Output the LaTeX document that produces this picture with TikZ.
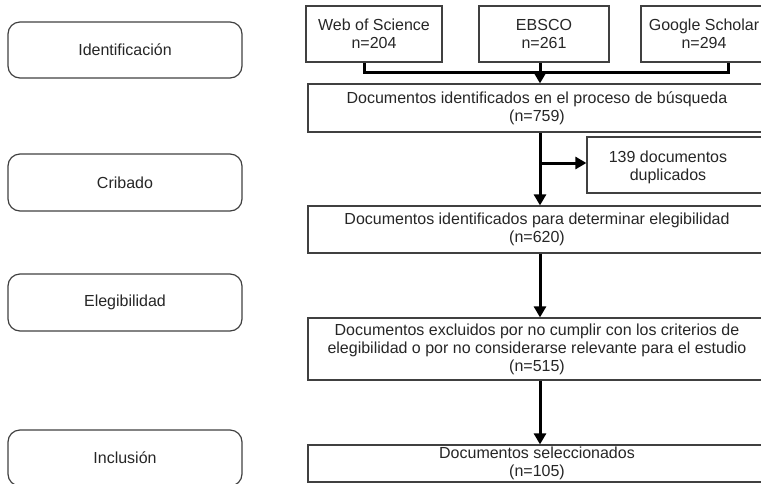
\documentclass[tikz,border=0pt]{standalone}
\usepackage{fontspec}
\setmainfont{Liberation Sans}
\usetikzlibrary{positioning,arrows.meta}
\usepackage{xcolor}

\begin{document}
\begin{tikzpicture}[x=1pt, y=-1pt, every node/.style={font=\fontsize{16}{18}\selectfont, text=black!85}, phase/.style={draw=black!75, line width=1.2pt, rounded corners=12pt, minimum width=234pt, minimum height=56pt}, src/.style={draw=black!75, line width=1.2pt, align=center, minimum height=56pt}, box/.style={draw=black!75, line width=1.2pt, align=center, minimum width=458pt, inner sep=1pt}, arr/.style={-{Triangle[length=11pt,width=12pt]}, line width=3pt}, link/.style={line width=3pt}]
\useasboundingbox (0,0) rectangle (761,483);
\clip (0,0) rectangle (761,483);
\node[phase] (ident) at (125,50) {Identificación};
\node[phase, minimum height=57pt] (crib) at (125,182.5) {Cribado};
\node[phase, minimum height=57pt] (eleg) at (125,302.5) {Elegibilidad};
\node[phase] (incl) at (125,458) {Inclusión};
\node[src, minimum width=136pt] (wos) at (374,34) {Web of Science\\n=204};
\node[src, minimum width=130pt] (ebsco) at (544,34) {EBSCO\\n=261};
\node[src, minimum width=126pt] (gs) at (704,34) {Google Scholar\\n=294};
\node[box, minimum height=48pt] (busq) at (537,108) {Documentos identificados en el proceso de búsqueda\\(n=759)};
\node[draw=black!75, line width=1.2pt, minimum width=190pt, minimum height=56pt] (dup) at (682,165) {};
\node[align=center] (duptxt) at (668,167) {139 documentos\\duplicados};
\node[box, minimum height=47pt] (elig) at (537,229.5) {Documentos identificados para determinar elegibilidad\\(n=620)};
\node[box, minimum height=62pt] (excl) at (537,349) {Documentos excluidos por no cumplir con los criterios de\\elegibilidad o por no considerarse relevante para el estudio\\(n=515)};
\node[box, minimum height=37pt] (sel) at (537,463.5) {Documentos seleccionados\\(n=105)};
\coordinate (spine) at (540,72);
\draw[link] ([xshift=-10pt]wos.south) |- (spine) -| ([xshift=24pt]gs.south);
\draw[arr] (ebsco.south -| spine) -- (busq.north -| spine);
\draw[arr] (busq.south -| spine) -- (elig.north -| spine);
\draw[arr] (spine |- 0,163) -- (dup.west |- 0,163);
\draw[arr] (elig.south -| spine) -- (excl.north -| spine);
\draw[arr] (excl.south -| spine) -- (sel.north -| spine);
\end{tikzpicture}
\end{document}
